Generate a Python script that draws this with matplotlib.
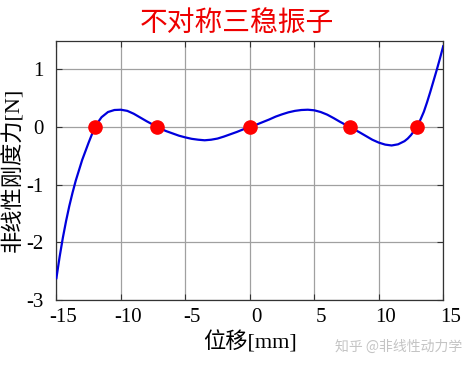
import matplotlib
matplotlib.use('Agg')
import matplotlib.pyplot as plt
import matplotlib.transforms as mtransforms

matplotlib.rcParams.update({
    'font.family': ['Liberation Serif', 'Noto Sans CJK SC'],
    'axes.unicode_minus': False,
})

# displacement [mm] and force [N]
x_mm = [-15.0, -14.75, -14.5, -14.25, -14.0, -13.75, -13.5, -13.0, -12.5, -12.0,
        -11.5, -11.0, -10.5, -10.0, -9.5, -9.0, -8.5, -8.0, -7.5, -7.0,
        -6.5, -6.0, -5.5, -5.0, -4.5, -4.0, -3.5, -3.0, -2.5, -2.0,
        -1.5, -1.0, -0.5, 0.0, 0.5, 1.0, 1.5, 2.0, 2.5, 3.0,
        3.5, 4.0, 4.5, 5.0, 5.5, 6.0, 6.5, 7.0, 7.5, 8.0,
        8.5, 9.0, 9.5, 10.0, 10.5, 11.0, 11.5, 12.0, 12.25, 12.5,
        12.75, 13.0, 13.25, 13.5, 13.75, 14.0, 14.25, 14.5, 14.75, 15.0]
force_n = [-2.62, -2.25, -1.92, -1.63, -1.37, -1.14, -0.93, -0.57, -0.27, 0.01,
           0.17, 0.26, 0.295, 0.30, 0.28, 0.23, 0.165, 0.10, 0.04, -0.02,
           -0.07, -0.11, -0.15, -0.18, -0.205, -0.22, -0.23, -0.22, -0.20, -0.165,
           -0.125, -0.085, -0.04, 0.00, 0.04, 0.085, 0.13, 0.18, 0.22, 0.255,
           0.28, 0.295, 0.30, 0.29, 0.26, 0.215, 0.155, 0.09, 0.03, -0.03,
           -0.09, -0.155, -0.22, -0.27, -0.305, -0.32, -0.30, -0.245, -0.20, -0.14,
           -0.065, 0.02, 0.135, 0.265, 0.43, 0.61, 0.80, 0.99, 1.19, 1.40]

# equilibrium positions (zero force)
eq_x = [-12.0, -7.2, 0.0, 7.8, 12.95]
eq_y = [0, 0, 0, 0, 0]

x_ticks = [-15, -10, -5, 0, 5, 10, 15]
y_ticks = [-3, -2, -1, 0, 1]

fig = plt.figure(figsize=(4.74, 3.65), dpi=100)
ax = fig.add_axes([0.119, 0.178, 0.816, 0.711])

ax.plot(x_mm, force_n, color='#0000dd', linewidth=1.6, zorder=3,
        solid_joinstyle='round')
ax.plot(eq_x, eq_y, 'o', color='#ff0000', markersize=9.5, zorder=4)

ax.set_xlim(-15, 15)
ax.set_ylim(-3, 1.5)
ax.set_xticks(x_ticks)
ax.set_yticks(y_ticks)
ax.set_xticklabels([str(t) for t in x_ticks])
ax.set_yticklabels([str(t) for t in y_ticks])
ax.grid(True, color='#a0a0a0', linewidth=0.9)
ax.set_axisbelow(True)
ax.tick_params(direction='in', top=True, right=True, length=4, labelsize=15,
               color='#333333')
ax.tick_params(axis='y', pad=9)
ax.tick_params(axis='x', pad=6)
for s in ax.spines.values():
    s.set_color('#333333')
    s.set_linewidth(0.9)

# x tick labels sit a little to the right of their ticks in the original
shift = mtransforms.ScaledTranslation(0.07, 0, fig.dpi_scale_trans)
for lab in ax.get_xticklabels():
    lab.set_transform(lab.get_transform() + shift)

ax.set_xlabel('位移[mm]', fontsize=16, labelpad=3)
ax.set_ylabel('非线性刚度力[N]', fontsize=16, labelpad=2)

fig.text(0.5, 0.935, '不对称三稳振子', color='#ee0000', fontsize=20,
         ha='center', va='center', family=['Noto Sans CJK SC'])
fig.text(0.975, 0.05, '知乎 @非线性动力学', color='#c4c4c4', fontsize=10,
         ha='right', va='center', family=['Noto Sans CJK SC'])

fig.savefig('out.png', dpi=100)
